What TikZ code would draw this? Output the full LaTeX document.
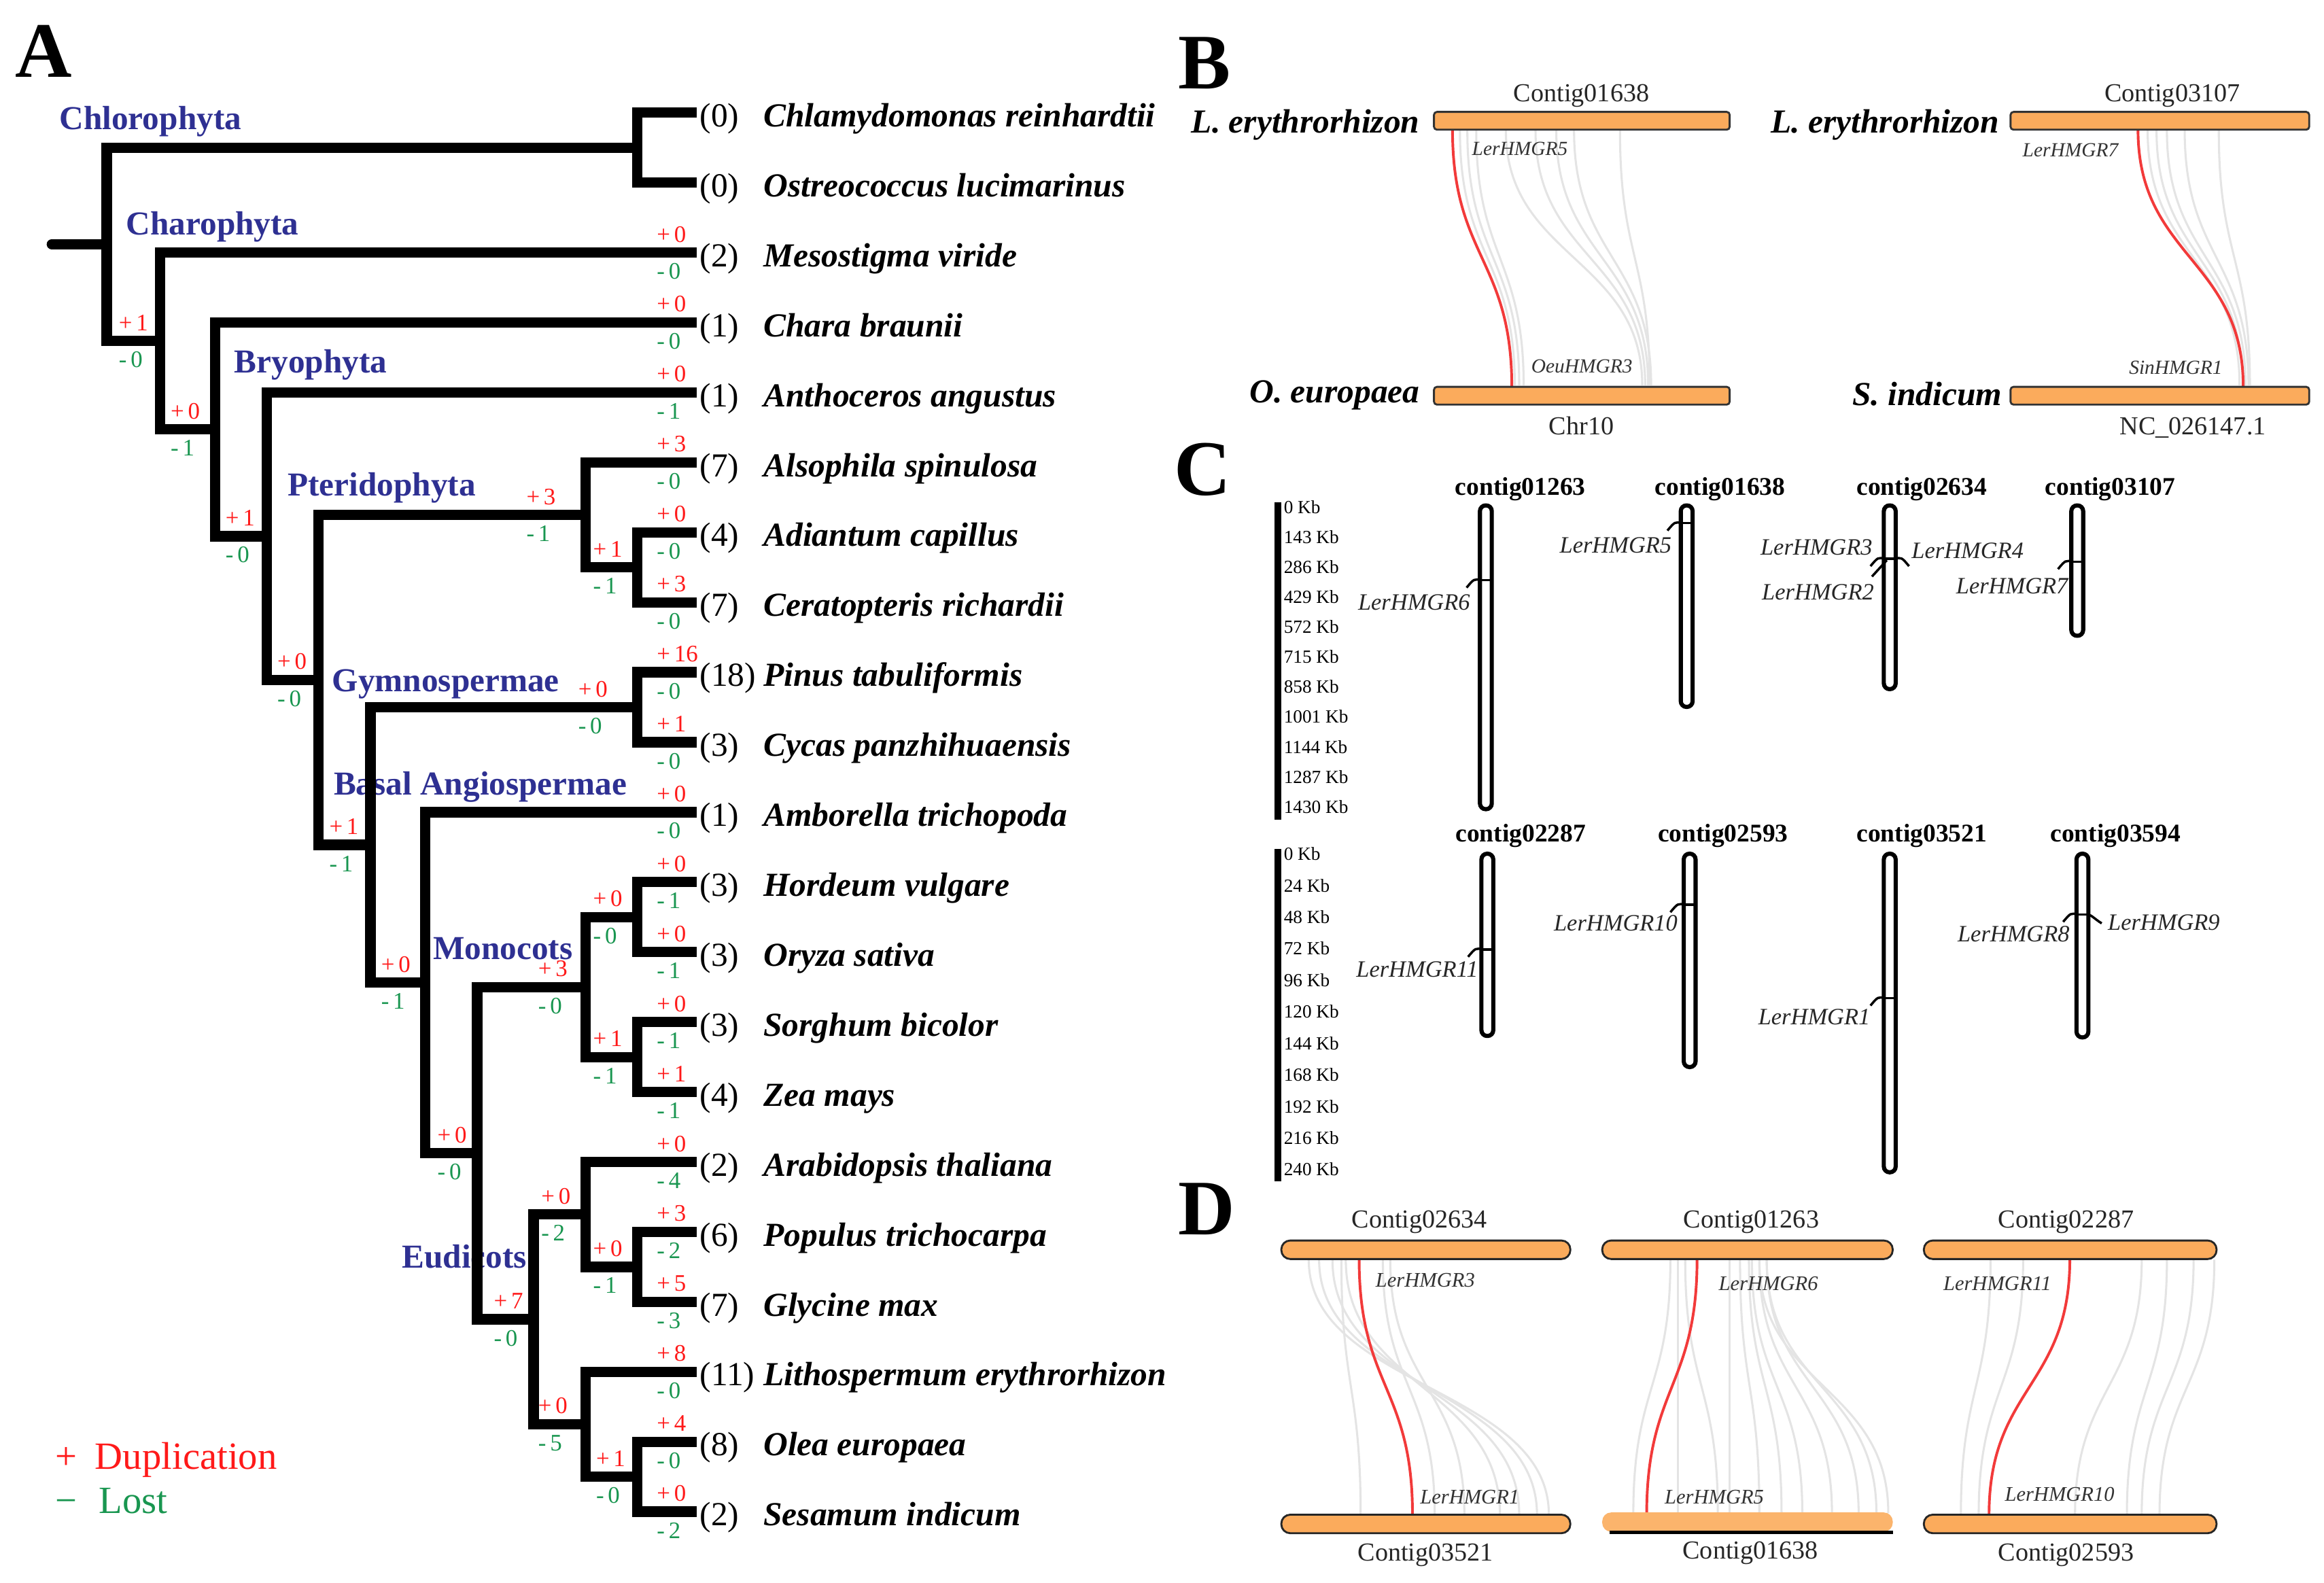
\documentclass[tikz,border=0pt]{standalone}
\usepackage{fontspec}
\setmainfont{Liberation Serif}
\definecolor{cladeblue}{RGB}{46,48,146}
\definecolor{dupred}{RGB}{255,25,25}
\definecolor{losgreen}{RGB}{25,150,80}
\definecolor{barorange}{RGB}{251,171,92}
\definecolor{synred}{RGB}{242,58,58}
\definecolor{syngray}{RGB}{228,228,228}
\newcommand{\fs}[1]{\fontsize{#1}{#1}\selectfont}
% branch label: name, left x, branch y, plus, minus
\newcommand{\bl}[5]{%
  \node[dup] (#1d) at (#2,#3-7.1) {+\,#4};
  \node[los] (#1l) at (#2,#3+17.9) {-\,#5};}
% ribbon: style, x1, y1, x2, y2, control offset
\newcommand{\rib}[6]{\draw[#1] (#2,#3) .. controls +(0,#6) and +(0,-#6) .. (#4,#5);}
% chromosome marker, hook to the left
\newcommand{\mkL}[2]{\draw[mk] (#1-4,#2) -- (#1+4,#2);
  \draw[mk] (#1-3,#2) .. controls (#1-8,#2-1) .. (#1-13,#2+5);}
\newcommand{\mkR}[2]{\draw[mk] (#1+3,#2) .. controls (#1+8,#2-1) .. (#1+13,#2+5);}
\begin{document}
\begin{tikzpicture}[x=1pt,y=-1pt,
  br/.style={line width=7pt, line join=miter, line cap=butt},
  sp/.style={font={\fs{22.7}\bfseries\itshape}, anchor=base west, inner sep=0pt},
  cnt/.style={font={\fs{22.7}}, anchor=base west, inner sep=0pt},
  clade/.style={font={\fs{22.6}\bfseries}, text=cladeblue, anchor=base west, inner sep=0pt},
  dup/.style={font={\fs{16}}, text=dupred, anchor=base west, inner sep=0pt},
  los/.style={font={\fs{16}}, text=losgreen, anchor=base west, inner sep=0pt},
  panel/.style={font={\fs{53}\bfseries}, anchor=base west, inner sep=0pt},
  bar/.style={fill=barorange, draw=black!80, line width=1.3pt, rounded corners=2pt},
  dbar/.style={fill=barorange, draw=black!85, line width=1.3pt, rounded corners=6pt},
  redsyn/.style={draw=synred, line width=1.8pt},
  graysyn/.style={draw=syngray, line width=1.4pt},
  contig/.style={font={\fs{17.5}}, text=black!85, anchor=base, inner sep=0pt},
  gene/.style={font={\fs{13.5}\itshape}, text=black!80, anchor=base west, inner sep=0pt},
  dgene/.style={font={\fs{14}\itshape}, text=black!80, anchor=base west, inner sep=0pt},
  spB/.style={font={\fs{22.7}\bfseries\itshape}, anchor=base east, inner sep=0pt},
  chrom/.style={draw=black, line width=2.8pt, rounded corners=3.9pt},
  cname/.style={font={\fs{17.2}\bfseries}, anchor=base, inner sep=0pt},
  kb/.style={font={\fs{12.5}}, anchor=base west, inner sep=0pt},
  cgeneL/.style={font={\fs{15.8}\itshape}, text=black!85, anchor=base east, inner sep=0pt},
  cgeneR/.style={font={\fs{15.8}\itshape}, text=black!85, anchor=base west, inner sep=0pt},
  mk/.style={line width=1.6pt},
  legend/.style={font={\fs{26}}, anchor=base west, inner sep=0pt}]
\useasboundingbox (0,0) rectangle (1568,1068);
\fill[white] (0,0) rectangle (1568,1068);

% ---------------- Panel A ----------------
\node[panel] (labA) at (10,52) {A};
\node[clade] (cl1) at (40,87.5) {Chlorophyta};
\node[clade] (cl2) at (85,158.5) {Charophyta};
\node[clade] (cl3) at (158,251.5) {Bryophyta};
\node[clade] (cl4) at (194,334.5) {Pteridophyta};
\node[clade] (cl5) at (224,466.5) {Gymnospermae};
\node[clade] (cl6) at (225,536.5) {Basal Angiospermae};
\node[clade] (cl7) at (292,647.5) {Monocots};
\node[clade] (cl8) at (271,855.5) {Eudicots};

\foreach \i/\c/\n in {1/0/{Chlamydomonas reinhardtii},2/0/{Ostreococcus lucimarinus},
  3/2/{Mesostigma viride},4/1/{Chara braunii},5/1/{Anthoceros angustus},
  6/7/{Alsophila spinulosa},7/4/{Adiantum capillus},8/7/{Ceratopteris richardii},
  9/18/{Pinus tabuliformis},10/3/{Cycas panzhihuaensis},11/1/{Amborella trichopoda},
  12/3/{Hordeum vulgare},13/3/{Oryza sativa},14/3/{Sorghum bicolor},15/4/{Zea mays},
  16/2/{Arabidopsis thaliana},17/6/{Populus trichocarpa},18/7/{Glycine max},
  19/11/{Lithospermum erythrorhizon},20/8/{Olea europaea},21/2/{Sesamum indicum}}{
  \coordinate (t\i) at (470,{76+47.2*(\i-1)});
  \node[cnt] (cnt\i) at (472,{76+47.2*(\i-1)+9.5}) {(\c)};
  \node[sp] (sp\i) at (515,{76+47.2*(\i-1)+9.5}) {\n};
}

\coordinate (R0) at (35,164.8);
\coordinate (N1) at (72,164.8);
\coordinate (C1) at (430,99.6);
\coordinate (N2) at (108,230.05);
\coordinate (N3) at (145,289.7);
\coordinate (N4) at (180,361.8);
\coordinate (N5) at (215,458.75);
\coordinate (P1) at (395,347.4);
\coordinate (P2) at (430,382.8);
\coordinate (S1) at (250,570.1);
\coordinate (G1) at (430,477.2);
\coordinate (A1) at (287,663.05);
\coordinate (A2) at (322,778.1);
\coordinate (M1) at (395,666);
\coordinate (M2) at (430,618.8);
\coordinate (M3) at (430,713.2);
\coordinate (E1) at (360,890.2);
\coordinate (E2) at (395,819.4);
\coordinate (E4) at (430,854.8);
\coordinate (E3) at (395,961);
\coordinate (E5) at (430,996.4);

\draw[br, line cap=round] (R0) -- (N1);
\foreach \p/\c in {N1/C1,N1/N2,C1/t1,C1/t2,N2/t3,N2/N3,N3/t4,N3/N4,N4/t5,N4/N5,
  N5/P1,N5/S1,P1/t6,P1/P2,P2/t7,P2/t8,S1/G1,S1/A1,G1/t9,G1/t10,A1/t11,A1/A2,
  A2/M1,A2/E1,M1/M2,M1/M3,M2/t12,M2/t13,M3/t14,M3/t15,E1/E2,E1/E3,E2/t16,E2/E4,
  E4/t17,E4/t18,E3/t19,E3/E5,E5/t20,E5/t21}{
  \draw[br] (\p) |- (\c);
}

% tip labels
\foreach \i/\a/\b in {3/0/0,4/0/0,5/0/1,6/3/0,7/0/0,8/3/0,9/16/0,10/1/0,11/0/0,
  12/0/1,13/0/1,14/0/1,15/1/1,16/0/4,17/3/2,18/5/3,19/8/0,20/4/0,21/0/2}{
  \pgfmathsetmacro{\ty}{76+47.2*(\i-1)}
  \bl{tl\i}{443}{\ty}{\a}{\b}
}
% internal labels
\bl{iN2}{80}{230.05}{1}{0}
\bl{iN3}{115}{289.7}{0}{1}
\bl{iN4}{152}{361.8}{1}{0}
\bl{iN5}{187}{458.75}{0}{0}
\bl{iP1}{355}{347.4}{3}{1}
\bl{iP2}{400}{382.8}{1}{1}
\bl{iS1}{222}{570.1}{1}{1}
\bl{iG1}{390}{477.2}{0}{0}
\bl{iA1}{257}{663.05}{0}{1}
\bl{iA2}{295}{778.1}{0}{0}
\bl{iM1}{363}{666}{3}{0}
\bl{iM2}{400}{618.8}{0}{0}
\bl{iM3}{400}{713.2}{1}{1}
\bl{iE1}{333}{890.2}{7}{0}
\bl{iE2}{365}{819.4}{0}{2}
\bl{iE4}{400}{854.8}{0}{1}
\bl{iE3}{363}{961}{0}{5}
\bl{iE5}{402}{996.4}{1}{0}

% legend
\node[legend, text=dupred] (lgp) at (37,991.5) {+};
\node[legend, text=dupred] (lgd) at (64,991.5) {Duplication};
\node[legend, text=losgreen] (lgm) at (37,1021) {−};
\node[legend, text=losgreen] (lgl) at (66.5,1021) {Lost};

% ---------------- Panel B ----------------
\node[panel] (labB) at (795,60) {B};
\foreach \a/\b in {985/1022,990/1025,996/1028,1016/1108,1036/1110,1050/1112,1062/1114,1093/1113}{
  \rib{graysyn}{\a}{88}{\b}{260}{86}
}
\foreach \a/\b in {1449/1511,1455/1513,1462/1515,1474/1517,1497/1518}{
  \rib{graysyn}{\a}{88}{\b}{260}{86}
}
\coordinate (rB1a) at (980,87.5);
\coordinate (rB1b) at (1020,261);
\coordinate (rB2a) at (1442.5,87.5);
\coordinate (rB2b) at (1513.5,261);
\draw[redsyn] (rB1a) .. controls +(0,86) and +(0,-86) .. (rB1b);
\draw[redsyn] (rB2a) .. controls +(0,86) and +(0,-86) .. (rB2b);
\draw[bar] (967.5,75.5) rectangle (1167,87.5);
\draw[bar] (967.5,261) rectangle (1167,273);
\draw[bar] (1356.5,75.5) rectangle (1558,87.5);
\draw[bar] (1356.5,261) rectangle (1558,273);
\node[contig] (bc1) at (1067,68.4) {Contig01638};
\node[contig] (bc2) at (1465.6,68.4) {Contig03107};
\node[contig] (bc3) at (1067,293.3) {Chr10};
\node[contig] (bc4) at (1479.5,293.3) {NC\_026147.1};
\node[spB] (bs1) at (958,89.5) {L. erythrorhizon};
\node[spB] (bs2) at (1349,89.5) {L. erythrorhizon};
\node[spB] (bs3) at (958,271.5) {O. europaea};
\node[spB] (bs4) at (1351,273.5) {S. indicum};
\node[gene] (bg1) at (993,105) {LerHMGR5};
\node[gene] (bg2) at (1364.5,105.8) {LerHMGR7};
\node[gene] (bg3) at (1033,251.4) {OeuHMGR3};
\node[gene] (bg4) at (1436.3,252.4) {SinHMGR1};

% ---------------- Panel C ----------------
\node[panel] (labC) at (792,334) {C};
\draw[line width=4.5pt] (862,339) -- (862,553);
\draw[line width=4.5pt] (862,573) -- (862,797);
\foreach \l [count=\i from 0] in {0,143,286,429,572,715,858,1001,1144,1287,1430}{
  \node[kb] (kbA\i) at (866,{342.3+20.22*\i+4.1}) {\l\ Kb};
}
\foreach \l [count=\i from 0] in {0,24,48,72,96,120,144,168,192,216,240}{
  \node[kb] (kbB\i) at (866,{576.4+21.28*\i+4.1}) {\l\ Kb};
}
\node[cname] (cn1) at (1025.8,334) {contig01263};
\node[cname] (cn2) at (1160.5,334) {contig01638};
\node[cname] (cn3) at (1296.6,334) {contig02634};
\node[cname] (cn4) at (1423.8,334) {contig03107};
\node[cname] (cn5) at (1026,568) {contig02287};
\node[cname] (cn6) at (1162.5,568) {contig02593};
\node[cname] (cn7) at (1296.6,568) {contig03521};
\node[cname] (cn8) at (1427.3,568) {contig03594};

\draw[chrom] (998.5,341) rectangle (1006.5,546);
\draw[chrom] (1134,341) rectangle (1142,477);
\draw[chrom] (1271,341) rectangle (1279,465);
\draw[chrom] (1397.5,341) rectangle (1405.5,429);
\draw[chrom] (999.5,576) rectangle (1007.5,699);
\draw[chrom] (1136,576) rectangle (1144,720);
\draw[chrom] (1271,576) rectangle (1279,791);
\draw[chrom] (1401,576) rectangle (1409,700);

\mkL{1002.5}{391.5}
\mkL{1138}{353}
\mkL{1275}{377}
\draw[mk] (1273,378) -- (1263,389);
\mkR{1275}{377}
\mkL{1401.5}{379}
\mkL{1003.5}{640.6}
\mkL{1140}{610.5}
\mkL{1275}{673.5}
\mkL{1405}{617}
\draw[mk] (1408,617) .. controls (1411,617) and (1413,620) .. (1418,623);

\node[cgeneL] (cg6) at (992,411.4) {LerHMGR6};
\node[cgeneL] (cg5) at (1128,372.9) {LerHMGR5};
\node[cgeneL] (cg3) at (1263.5,374.5) {LerHMGR3};
\node[cgeneR] (cg4) at (1289.6,376.9) {LerHMGR4};
\node[cgeneL] (cg2) at (1264.5,404.8) {LerHMGR2};
\node[cgeneL] (cg7) at (1395.5,400.7) {LerHMGR7};
\node[cgeneL] (cg11) at (997.5,659.2) {LerHMGR11};
\node[cgeneL] (cg10) at (1132,628.2) {LerHMGR10};
\node[cgeneL] (cg1) at (1262,691.2) {LerHMGR1};
\node[cgeneL] (cg8) at (1396.5,635.2) {LerHMGR8};
\node[cgeneR] (cg9) at (1422,627.7) {LerHMGR9};

% ---------------- Panel D ----------------
\node[panel] (labD) at (795,833) {D};
\foreach \a/\b in {883/1045,890/1037,899/1025,908/1012,905/918,933/968,938/988}{
  \rib{graysyn}{\a}{850}{\b}{1022}{86}
}
\foreach \a/\b in {1127/1102,1132/1132,1137/1159,1167/1167,1174/1187,1182/1216,1187/1236,1192/1254,1192/1266,1187/1274,1180/1202}{
  \rib{graysyn}{\a}{850}{\b}{1021}{86}
}
\foreach \a/\b in {1343/1323,1365/1335,1445/1400,1462/1435,1480/1445,1494/1457}{
  \rib{graysyn}{\a}{850}{\b}{1022}{86}
}
\coordinate (rD1a) at (917,849.5);
\coordinate (rD1b) at (953,1022);
\coordinate (rD2a) at (1145,849.5);
\coordinate (rD2b) at (1111,1022);
\coordinate (rD3a) at (1396.5,849.5);
\coordinate (rD3b) at (1342,1022);
\draw[redsyn] (rD1a) .. controls +(0,86) and +(0,-86) .. (rD1b);
\draw[redsyn] (rD2a) .. controls +(0,86) and +(0,-86) .. (rD2b);
\draw[redsyn] (rD3a) .. controls +(0,86) and +(0,-86) .. (rD3b);
\draw[dbar] (864.5,837) rectangle (1059.5,849.5);
\draw[dbar] (1081,837) rectangle (1277,849.5);
\draw[dbar] (1298,837) rectangle (1495.5,849.5);
\draw[dbar] (864.5,1022) rectangle (1059.5,1034.5);
\fill[barorange!90!white, rounded corners=6pt] (1081,1020.5) rectangle (1277,1033.5);
\draw[line width=2.2pt] (1086,1033.8) -- (1277,1033.8);
\draw[dbar] (1298,1022) rectangle (1495.5,1034.5);
\node[contig] (dc1) at (957.7,828.4) {Contig02634};
\node[contig] (dc2) at (1181.6,828.4) {Contig01263};
\node[contig] (dc3) at (1394,828.4) {Contig02287};
\node[contig] (dc4) at (961.8,1053.4) {Contig03521};
\node[contig] (dc5) at (1181,1051.6) {Contig01638};
\node[contig] (dc6) at (1394,1053.4) {Contig02593};
\node[dgene] (dg3) at (928,868.4) {LerHMGR3};
\node[dgene] (dg1) at (958,1014.8) {LerHMGR1};
\node[dgene] (dg6) at (1159.5,870.6) {LerHMGR6};
\node[dgene] (dg5) at (1123,1014.8) {LerHMGR5};
\node[dgene] (dg11) at (1311,870.6) {LerHMGR11};
\node[dgene] (dg10) at (1352.5,1012.8) {LerHMGR10};
\end{tikzpicture}
\end{document}
